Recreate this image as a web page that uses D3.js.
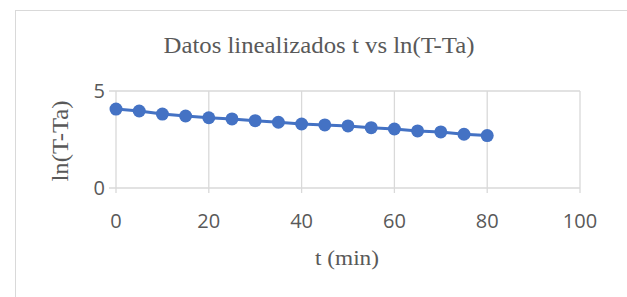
<!DOCTYPE html>
<html>
<head>
<meta charset="utf-8">
<script src="https://cdn.jsdelivr.net/npm/d3@7"></script>
<style>
  body { margin: 0; background: #fff; }
</style>
</head>
<body>
<div id="chart"></div>
<script>
// Data
var tValues = [0, 5, 10, 15, 20, 25, 30, 35, 40, 45, 50, 55, 60, 65, 70, 75, 80];
var lnValues = [4.07, 3.97, 3.81, 3.71, 3.62, 3.56, 3.47, 3.39, 3.30, 3.25, 3.20, 3.11, 3.04, 2.94, 2.89, 2.77, 2.70];
var xTicks = [0, 20, 40, 60, 80, 100];
var yTicks = [0, 5];

var svgWidth = 627;
var svgHeight = 297;

var svg = d3.select("#chart")
    .append("svg")
    .attr("width", svgWidth)
    .attr("height", svgHeight);

// chart border
svg.append("rect")
    .attr("x", 15.5)
    .attr("y", 10.5)
    .attr("width", 640)
    .attr("height", 320)
    .attr("fill", "#fff")
    .attr("stroke", "#d9d9d9")
    .attr("stroke-width", 1);

var x = d3.scaleLinear().domain([0, 100]).range([116, 580]);
var y = d3.scaleLinear().domain([0, 5]).range([188, 91]);

// vertical gridlines
svg.append("g")
    .selectAll("line")
    .data(xTicks)
    .enter()
    .append("line")
    .attr("x1", d => x(d))
    .attr("x2", d => x(d))
    .attr("y1", y(5))
    .attr("y2", y(0) + 5)
    .attr("stroke", "#d9d9d9")
    .attr("stroke-width", 1.3);

// horizontal gridlines / axis
svg.append("g")
    .selectAll("line")
    .data(yTicks)
    .enter()
    .append("line")
    .attr("x1", x(0) - 7)
    .attr("x2", x(100))
    .attr("y1", d => y(d))
    .attr("y2", d => y(d))
    .attr("stroke", "#d9d9d9")
    .attr("stroke-width", 1.3);

// tick labels
svg.append("g")
    .selectAll("text")
    .data(xTicks)
    .enter()
    .append("text")
    .attr("x", d => x(d))
    .attr("y", 228)
    .attr("text-anchor", "middle")
    .attr("font-family", "'Open Sans', sans-serif")
    .attr("font-size", "20px")
    .attr("fill", "#595959")
    .text(d => d);

svg.append("g")
    .selectAll("text")
    .data(yTicks)
    .enter()
    .append("text")
    .attr("x", 105)
    .attr("y", d => y(d) + 7)
    .attr("text-anchor", "end")
    .attr("font-family", "'Open Sans', sans-serif")
    .attr("font-size", "20px")
    .attr("fill", "#595959")
    .text(d => d);

// line and markers
var line = d3.line()
    .x((d, i) => x(tValues[i]))
    .y(d => y(d));

svg.append("path")
    .datum(lnValues)
    .attr("d", line)
    .attr("fill", "none")
    .attr("stroke", "#4472c4")
    .attr("stroke-width", 3);

svg.append("g")
    .selectAll("circle")
    .data(lnValues)
    .enter()
    .append("circle")
    .attr("cx", (d, i) => x(tValues[i]))
    .attr("cy", d => y(d))
    .attr("r", 6.5)
    .attr("fill", "#4472c4");

// title and axis titles
svg.append("text")
    .attr("x", 319)
    .attr("y", 53)
    .attr("text-anchor", "middle")
    .attr("font-family", "'Liberation Serif', serif")
    .attr("font-size", "23px")
    .attr("textLength", 311)
    .attr("lengthAdjust", "spacingAndGlyphs")
    .attr("fill", "#595959")
    .text("Datos linealizados t vs ln(T-Ta)");

svg.append("text")
    .attr("x", 347)
    .attr("y", 265)
    .attr("text-anchor", "middle")
    .attr("font-family", "'Liberation Serif', serif")
    .attr("font-size", "22px")
    .attr("textLength", 64)
    .attr("lengthAdjust", "spacingAndGlyphs")
    .attr("fill", "#595959")
    .text("t (min)");

svg.append("text")
    .attr("transform", "translate(68, 141) rotate(-90)")
    .attr("text-anchor", "middle")
    .attr("font-family", "'Liberation Serif', serif")
    .attr("font-size", "23px")
    .attr("textLength", 81)
    .attr("lengthAdjust", "spacingAndGlyphs")
    .attr("fill", "#595959")
    .text("ln(T-Ta)");
</script>
</body>
</html>
